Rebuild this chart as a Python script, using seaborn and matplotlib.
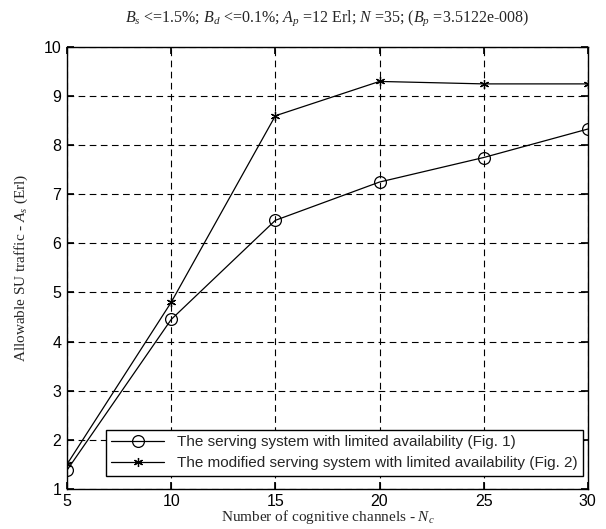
import matplotlib
matplotlib.use("Agg")
import matplotlib.pyplot as plt
import seaborn as sns
import pandas as pd

channels = [5, 10, 15, 20, 25, 30]
fig1_traffic = [1.38, 4.45, 6.47, 7.25, 7.75, 8.33]
fig2_traffic = [1.50, 4.80, 8.60, 9.30, 9.25, 9.25]
label1 = "The serving system with limited availability (Fig. 1)"
label2 = "The modified serving system with limited availability (Fig. 2)"
xticks = [5, 10, 15, 20, 25, 30]
yticks = [1, 2, 3, 4, 5, 6, 7, 8, 9, 10]

sns.set_theme(style="white")
plt.rcParams['font.family'] = ['Liberation Sans', 'DejaVu Sans']
plt.rcParams['mathtext.fontset'] = 'custom'
plt.rcParams['mathtext.rm'] = 'Liberation Serif'
plt.rcParams['mathtext.it'] = 'Liberation Serif:italic'

fig = plt.figure(figsize=(6.06, 5.29), dpi=100)
ax = fig.add_axes([0.1106, 0.076, 0.8594, 0.835])

df = pd.DataFrame({"Nc": channels * 2,
                   "As": fig1_traffic + fig2_traffic,
                   "series": [label1] * 6 + [label2] * 6})

sns.lineplot(data=df[df.series == label1], x="Nc", y="As", ax=ax, color="black",
             lw=0.9, marker="o", markersize=8.5, markerfacecolor="none",
             markeredgecolor="black", markeredgewidth=0.9, label=label1)
sns.lineplot(data=df[df.series == label2], x="Nc", y="As", ax=ax, color="black",
             lw=0.9, marker=(6, 2, 0), markersize=6.5, markeredgewidth=0.9,
             markeredgecolor="black", label=label2)

ax.set_xlim(5, 30)
ax.set_ylim(1, 10)
ax.set_xticks(xticks)
ax.set_yticks(yticks)
ax.grid(True, color="black", linestyle=(0, (6, 4)), linewidth=0.8)
for s in ax.spines.values():
    s.set_color("black")
    s.set_linewidth(1.0)
ax.tick_params(axis="both", direction="in", length=5, labelsize=11.5, colors="black",
               top=True, right=True, bottom=True, left=True, pad=4)

ax.set_xlabel("Number of cognitive channels - $N_c$", fontsize=11,
              family="Liberation Serif", labelpad=-1)
ax.set_ylabel("Allowable SU traffic - $A_s$ (Erl)", fontsize=11,
              family="Liberation Serif", labelpad=10)
ax.set_title(r"$B_s$ <=1.5%; $B_d$ <=0.1%; $A_p$ =12 Erl; $N$ =35; ($B_p$ =3.5122e-008)",
             fontsize=11.5, family="Liberation Serif", pad=18)

leg = ax.legend(loc="lower right", bbox_to_anchor=(0.99, 0.03), fontsize=11,
                frameon=True, fancybox=False, edgecolor="black", framealpha=1,
                handlelength=3.5, borderpad=0.35, labelspacing=0.45, borderaxespad=0)
leg.get_frame().set_linewidth(1.0)

fig.savefig("out.png", dpi=100)
